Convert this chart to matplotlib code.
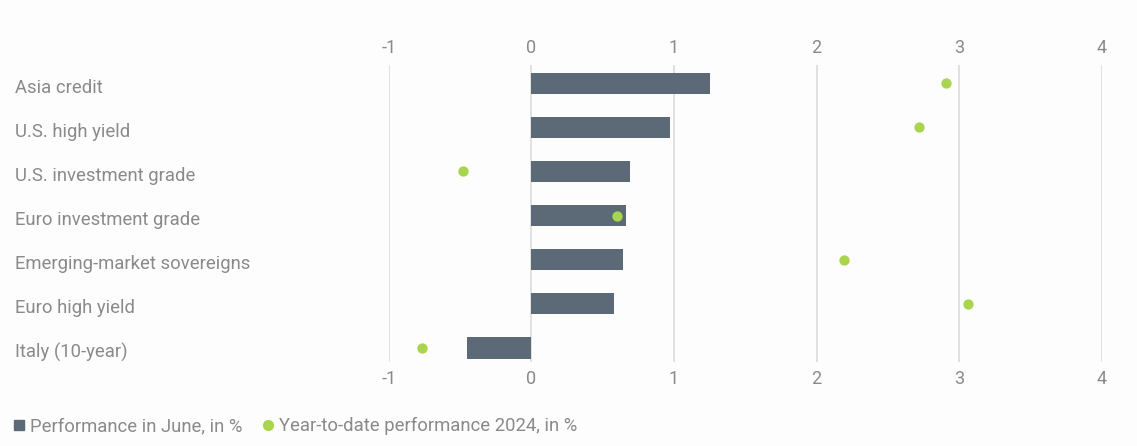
import matplotlib.pyplot as plt
from matplotlib.lines import Line2D

categories = [
    "Asia credit",
    "U.S. high yield",
    "U.S. investment grade",
    "Euro investment grade",
    "Emerging-market sovereigns",
    "Euro high yield",
    "Italy (10-year)",
]
june_perf = [1.25, 0.97, 0.69, 0.66, 0.64, 0.58, -0.45]
ytd_perf = [2.91, 2.72, -0.48, 0.60, 2.19, 3.06, -0.77]
x_ticks = [-1, 0, 1, 2, 3, 4]

BAR = "#5b6a76"
DOT = "#a8d44e"
TXT = "#8a8a8a"
GRID = "#d9d9d9"
BG = "#fdfdfd"

plt.rcParams["font.family"] = ["Roboto", "DejaVu Sans"]

fig = plt.figure(figsize=(11.37, 4.46), dpi=100, facecolor=BG)
ax = fig.add_axes([0.342, 0.188, 0.627, 0.666], facecolor=BG)

ypos = list(range(len(categories)))
ax.barh(ypos, june_perf, height=0.48, color=BAR, zorder=3)
ax.scatter(ytd_perf, ypos, s=55, color=DOT, zorder=4, linewidths=0)

ax.set_xlim(-1, 4)
ax.set_ylim(6.32, -0.41)
ax.set_xticks(x_ticks)
ax.set_xticklabels([str(t) for t in x_ticks])
ax.tick_params(axis="x", which="both", length=0, labelsize=13, colors=TXT,
               top=True, labeltop=True, bottom=True, labelbottom=True, pad=5.5)
ax.grid(axis="x", color=GRID, linewidth=1.1, zorder=0)
ax.set_yticks([])
for s in ax.spines.values():
    s.set_visible(False)

# category labels sit at the far left of the figure
trans = ax.get_yaxis_transform()
for y, name in zip(ypos, categories):
    ax.text(-(389 - 15) / (1102 - 389), y + 0.1, name, transform=trans,
            fontsize=13.3, color=TXT, va="center", ha="left")

handles = [
    Line2D([], [], marker="s", linestyle="", color=BAR, markersize=7),
    Line2D([], [], marker="o", linestyle="", color=DOT, markersize=7),
]
fig.legend(handles, ["Performance in June, in %", "Year-to-date performance 2024, in %"],
           loc="lower left", bbox_to_anchor=(-0.006, -0.013), ncol=2, frameon=False,
           fontsize=13.3, labelcolor=TXT, handletextpad=0.1, columnspacing=0.9,
           handlelength=1.0)

fig.savefig("out.png", dpi=100, facecolor=BG)
